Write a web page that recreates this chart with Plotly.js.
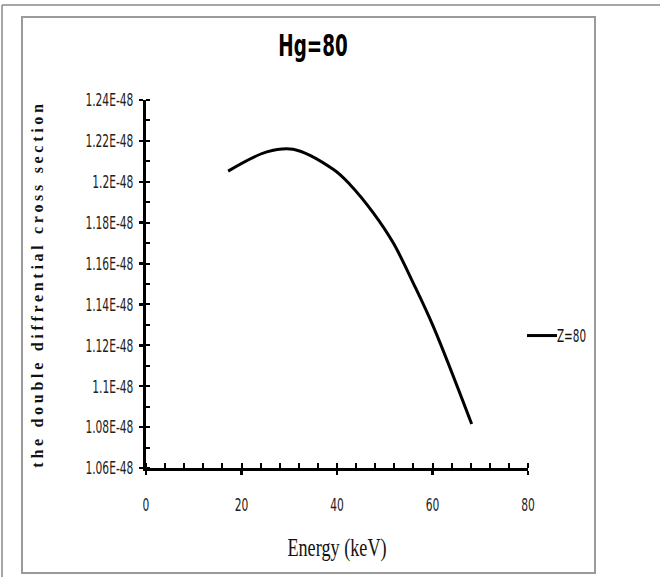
<!DOCTYPE html>
<html>
<head>
<meta charset="utf-8">
<script src="https://cdn.plot.ly/plotly-3.0.1.min.js"></script>
<style>
  html, body { margin: 0; padding: 0; background: #fff; }
  #chart { width: 660px; height: 577px; }
  #chart .ytitle { letter-spacing: 3.7px; }
  #chart .xtick text, #chart .ytick text, #chart .gtitle, #chart .legendtext { font-stretch: condensed !important; }
  #chart g.ytick { transform-box: fill-box; transform-origin: right center; transform: scaleX(0.66); }
  #chart g.xtick { transform-box: fill-box; transform-origin: center center; transform: scaleX(0.66); }
  #chart text.gtitle { transform-box: fill-box; transform-origin: center center; transform: scaleX(0.68); }
  #chart text.legendtext { transform-box: fill-box; transform-origin: left center; transform: translateX(-5px) scaleX(0.68); }
  #chart text.xtitle { transform-box: fill-box; transform-origin: center center; transform: scaleX(0.70); }
</style>
</head>
<body>
<div id="chart"></div>
<script>
// Data
const energy = [17.2, 25.3, 30.8, 39.2, 42.7, 47.6, 51.8, 56.0, 60.2, 68.2];
const crossSection = [1.2052e-48, 1.2146e-48, 1.2159e-48, 1.2061e-48, 1.1987e-48, 1.1848e-48, 1.1700e-48, 1.1503e-48, 1.1290e-48, 1.0815e-48];
const seriesName = "Z=80";
const yTickVals = [1.06e-48, 1.08e-48, 1.10e-48, 1.12e-48, 1.14e-48, 1.16e-48, 1.18e-48, 1.20e-48, 1.22e-48, 1.24e-48];
const yTickText = ["1.06E-48", "1.08E-48", "1.1E-48", "1.12E-48", "1.14E-48", "1.16E-48", "1.18E-48", "1.2E-48", "1.22E-48", "1.24E-48"];
const xTickVals = [0, 20, 40, 60, 80];

// plot area in pixels
const L = 146, R = 528, T = 100, B = 468;
const W = 660, H = 577;
const px = x => (x - L) / (R - L);
const py = y => (B - y) / (B - T);

const narrow = "DejaVu Sans Condensed, DejaVu Sans, sans-serif";

const trace = {
  x: energy, y: crossSection, name: seriesName,
  type: "scatter", mode: "lines",
  line: { color: "#000", width: 3, shape: "spline", smoothing: 1 }
};

const layout = {
  width: W, height: H,
  margin: { l: L, r: W - R, t: T, b: H - B, pad: 0 },
  paper_bgcolor: "#fff", plot_bgcolor: "#fff",
  showlegend: true,
  title: {
    text: "<b>Hg=80</b>",
    font: { family: narrow, size: 30, color: "#000" },
    x: px(313), xref: "paper", xanchor: "center",
    y: 1 - 46 / H, yref: "container", yanchor: "middle"
  },
  xaxis: {
    range: [0, 80], tickvals: xTickVals, ticktext: xTickVals.map(String),
    showgrid: false, zeroline: false, showline: true, linecolor: "#000", linewidth: 3,
    ticks: "outside", ticklen: 4, tickwidth: 2.5, tickcolor: "#000",
    minor: { dtick: 4, ticks: "inside", ticklen: 5, tickwidth: 2, tickcolor: "#000" },
    tickfont: { family: narrow, size: 18, color: "#222" },
    ticklabelstandoff: 14,
    title: { text: "Energy (keV)", font: { family: "Liberation Serif, DejaVu Serif, serif", size: 26, color: "#111" }, standoff: 25 },
    fixedrange: true
  },
  yaxis: {
    range: [1.06e-48, 1.24e-48], tickvals: yTickVals, ticktext: yTickText,
    showgrid: false, zeroline: false, showline: true, linecolor: "#000", linewidth: 3,
    ticks: "outside", ticklen: 4, tickwidth: 2.5, tickcolor: "#000",
    minor: { dtick: 0.01e-48, tick0: 1.06e-48, ticks: "inside", ticklen: 4, tickwidth: 2, tickcolor: "#000" },
    tickfont: { family: narrow, size: 18, color: "#222" },
    ticklabelstandoff: 2,
    title: { text: "<b>the double diffrential cross section</b>", font: { family: "Liberation Serif, Times New Roman, serif", size: 16, color: "#111" }, standoff: 14 },
    fixedrange: true
  },
  legend: {
    x: px(522), xanchor: "left", y: py(336), yanchor: "middle",
    font: { family: narrow, size: 17, color: "#111" },
    bgcolor: "rgba(0,0,0,0)", borderwidth: 0,
    itemwidth: 30, tracegroupgap: 0
  },
  shapes: [
    // inner frame
    { type: "rect", xref: "paper", yref: "paper", x0: px(22), x1: px(595), y0: py(573), y1: py(17),
      line: { color: "#9a9a9a", width: 2 }, fillcolor: "rgba(0,0,0,0)", layer: "below" },
    // outer frame (left and top lines)
    { type: "line", xref: "paper", yref: "paper", x0: px(2), x1: px(2), y0: py(577), y1: py(5),
      line: { color: "#8a8a8a", width: 1.5 } },
    { type: "line", xref: "paper", yref: "paper", x0: px(2), x1: px(660), y0: py(5), y1: py(5),
      line: { color: "#8a8a8a", width: 1.5 } }
  ]
};

Plotly.newPlot("chart", [trace], layout, { staticPlot: true, displayModeBar: false });
</script>
</body>
</html>
